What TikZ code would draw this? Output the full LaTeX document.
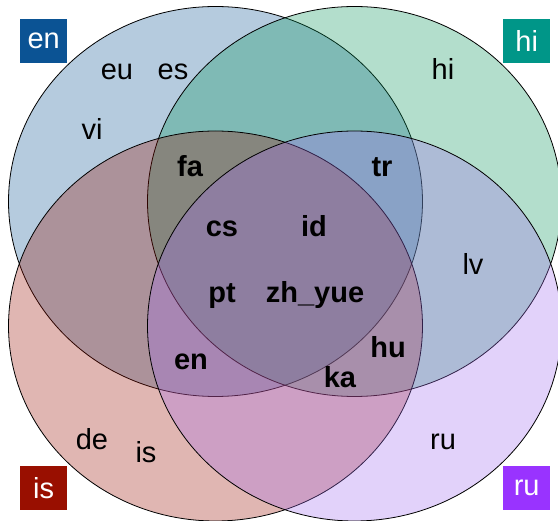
\documentclass[tikz,border=0pt]{standalone}
\usepackage{fontspec}
\setmainfont{Liberation Sans}
\definecolor{cen}{RGB}{11,83,148}
\definecolor{chi}{RGB}{0,150,136}
\definecolor{cis}{RGB}{153,15,0}
\definecolor{cru}{RGB}{153,51,255}
\definecolor{fhi}{RGB}{5,148,88}
\definecolor{fru}{RGB}{162,108,240}
\begin{document}
\begin{tikzpicture}[x=1pt,y=-1pt,
  setshape/.style={draw=black,line width=0.8pt,fill opacity=0.3},
  lab/.style={font=\fontsize{29}{29}\selectfont, inner sep=0pt, anchor=base},
  blab/.style={font=\fontsize{29}{29}\selectfont\bfseries, inner sep=0pt, anchor=base},
  keybox/.style={minimum width=47pt,minimum height=44pt,inner sep=0pt,text=white,
    font=\fontsize{29}{29}\selectfont, anchor=north west}]
\useasboundingbox (0,0) rectangle (558,521);
\clip (0,0) rectangle (558,521);
\fill[white] (0,0) rectangle (558,521);
% sets
\draw[setshape,fill=cen] (215.5,201.5) ellipse [x radius=207pt, y radius=195pt];
\draw[setshape,fill=fhi] (354.5,201.5) ellipse [x radius=207pt, y radius=195pt];
\draw[setshape,fill=cis] (215.5,326) ellipse [x radius=207pt, y radius=195pt];
\draw[setshape,fill=fru] (354.5,326) ellipse [x radius=207pt, y radius=195pt];
% key boxes
\node[keybox,fill=cen] (ken) at (20,19) {en};
\node[keybox,fill=chi] (khi) at (503,19) {hi};
\node[keybox,fill=cis] (kis) at (20,466) {is};
\node[keybox,fill=cru] (kru) at (503,466) {ru};
% region labels
\node[lab] (eu) at (117,80) {eu};
\node[lab] (es) at (173,80) {es};
\node[lab] (vi) at (92,140) {vi};
\node[lab] (hi) at (443,80) {hi};
\node[lab] (lv) at (473,275) {lv};
\node[lab] (de) at (92,450) {de};
\node[lab] (is) at (146,463) {is};
\node[lab] (ru) at (443,450) {ru};
\node[blab] (fa) at (190,177) {fa};
\node[blab] (tr) at (382,177) {tr};
\node[blab] (cs) at (222,237) {cs};
\node[blab] (id) at (314,237) {id};
\node[blab] (pt) at (222,303) {pt};
\node[blab] (zh) at (315,303) {zh\_yue};
\node[blab] (enr) at (191,370) {en};
\node[blab] (hu) at (388,358) {hu};
\node[blab] (ka) at (340,388) {ka};
\end{tikzpicture}
\end{document}
